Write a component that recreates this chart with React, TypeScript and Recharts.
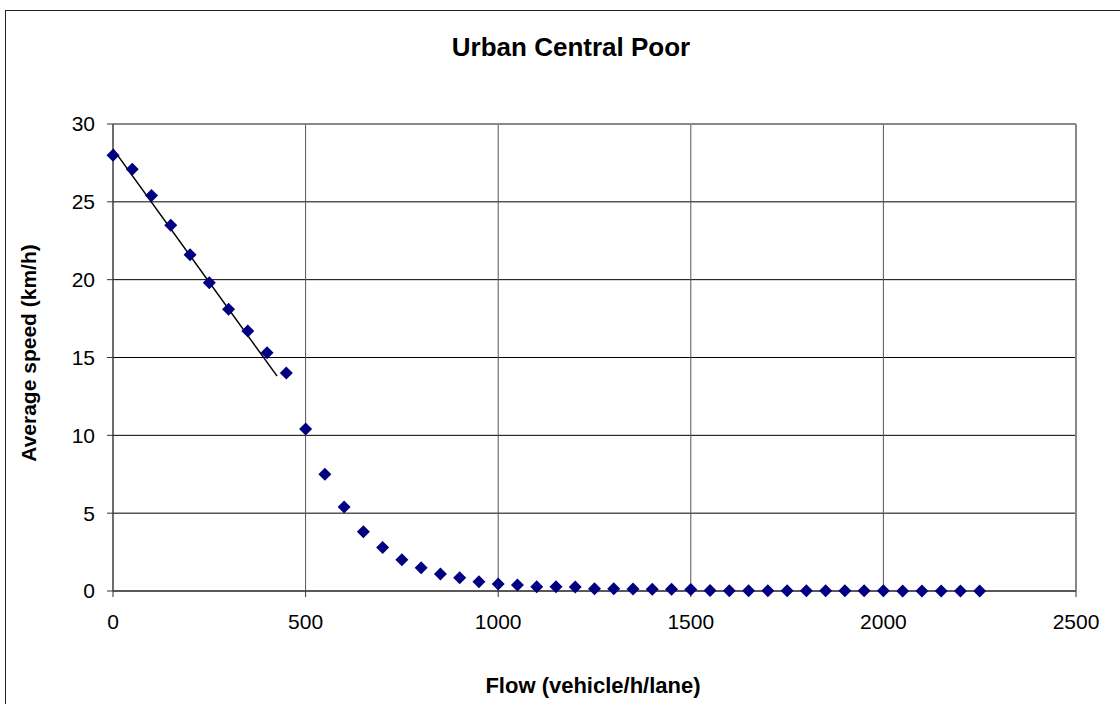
import {
  ComposedChart,
  Scatter,
  Line,
  XAxis,
  YAxis,
  CartesianGrid,
  ReferenceLine,
} from "recharts";

const flow = [
  0, 50, 100, 150, 200, 250, 300, 350, 400, 450, 500, 550, 600, 650, 700, 750,
  800, 850, 900, 950, 1000, 1050, 1100, 1150, 1200, 1250, 1300, 1350, 1400,
  1450, 1500, 1550, 1600, 1650, 1700, 1750, 1800, 1850, 1900, 1950, 2000, 2050,
  2100, 2150, 2200, 2250,
];

const speed = [
  28.0, 27.1, 25.4, 23.5, 21.6, 19.8, 18.1, 16.7, 15.3, 14.0, 10.4, 7.5, 5.4,
  3.8, 2.8, 2.0, 1.5, 1.1, 0.85, 0.6, 0.45, 0.38, 0.28, 0.27, 0.26, 0.15, 0.14,
  0.13, 0.12, 0.11, 0.1, 0.03, 0.02, 0.02, 0.02, 0.01, 0.01, 0.01, 0.01, 0.01,
  0.01, 0.0, 0.0, 0.0, 0.0, 0.0,
];

// linear trendline through the first points
const trendFlow = [0, 426];
const trendSpeed = [28.4, 13.8];

const xTicks = [0, 500, 1000, 1500, 2000, 2500];
const yTicks = [0, 5, 10, 15, 20, 25, 30];

const points = flow.map((x, i) => ({ x, y: speed[i] }));
const trend = trendFlow.map((x, i) => ({ x, y: trendSpeed[i] }));

const font = "'Liberation Sans', Arial, sans-serif";

const Diamond = (props: any) => {
  const { cx, cy } = props;
  if (cx == null || cy == null) return null;
  const r = 6.5;
  return (
    <polygon
      points={`${cx},${cy - r} ${cx + r},${cy} ${cx},${cy + r} ${cx - r},${cy}`}
      fill="#000080"
    />
  );
};

export default function App() {
  return (
    <div style={{ position: "absolute", left: 0, top: 0, width: 1120, height: 704, fontFamily: font }}>
      <div
        style={{
          position: "absolute",
          left: 5,
          top: 10,
          width: 1130,
          height: 710,
          borderLeft: "1px solid #222",
          borderTop: "1px solid #222",
        }}
      />
      <ComposedChart
        width={1120}
        height={704}
        margin={{ top: 124, right: 44, bottom: 0, left: 0 }}
        style={{ position: "absolute", left: 0, top: 0 }}
      >
        <CartesianGrid vertical={false} stroke="#000" strokeWidth={1} />
        <CartesianGrid horizontal={false} stroke="#555" strokeWidth={1} />
        <XAxis
          dataKey="x"
          type="number"
          domain={[0, 2500]}
          ticks={xTicks}
          height={113}
          stroke="#333"
          tickSize={6}
          tickMargin={17}
          tick={{ fill: "#000", fontSize: 21, fontFamily: font }}
          allowDuplicatedCategory={false}
        />
        <YAxis
          dataKey="y"
          type="number"
          domain={[0, 30]}
          ticks={yTicks}
          width={113}
          stroke="#333"
          tickSize={6}
          tickMargin={12}
          tick={{ fill: "#000", fontSize: 21, fontFamily: font }}
        />
        <ReferenceLine y={30} stroke="#888" strokeWidth={2} />
        <ReferenceLine x={2500} stroke="#888" strokeWidth={2} />
        <Line
          data={trend}
          dataKey="y"
          stroke="#000"
          strokeWidth={1.5}
          dot={false}
          activeDot={false}
          isAnimationActive={false}
          legendType="none"
        />
        <Scatter data={points} dataKey="y" shape={<Diamond />} isAnimationActive={false} />
      </ComposedChart>
      <div
        style={{
          position: "absolute",
          left: 571,
          top: 32,
          transform: "translateX(-50%)",
          whiteSpace: "nowrap",
          fontWeight: "bold",
          fontSize: 26,
        }}
      >
        Urban Central Poor
      </div>
      <div
        style={{
          position: "absolute",
          left: 593,
          top: 673,
          transform: "translateX(-50%)",
          whiteSpace: "nowrap",
          fontWeight: "bold",
          fontSize: 22,
        }}
      >
        Flow (vehicle/h/lane)
      </div>
      <div
        style={{
          position: "absolute",
          left: 29,
          top: 353,
          transform: "translate(-50%, -50%) rotate(-90deg)",
          whiteSpace: "nowrap",
          fontWeight: "bold",
          fontSize: 21,
        }}
      >
        Average speed (km/h)
      </div>
    </div>
  );
}
